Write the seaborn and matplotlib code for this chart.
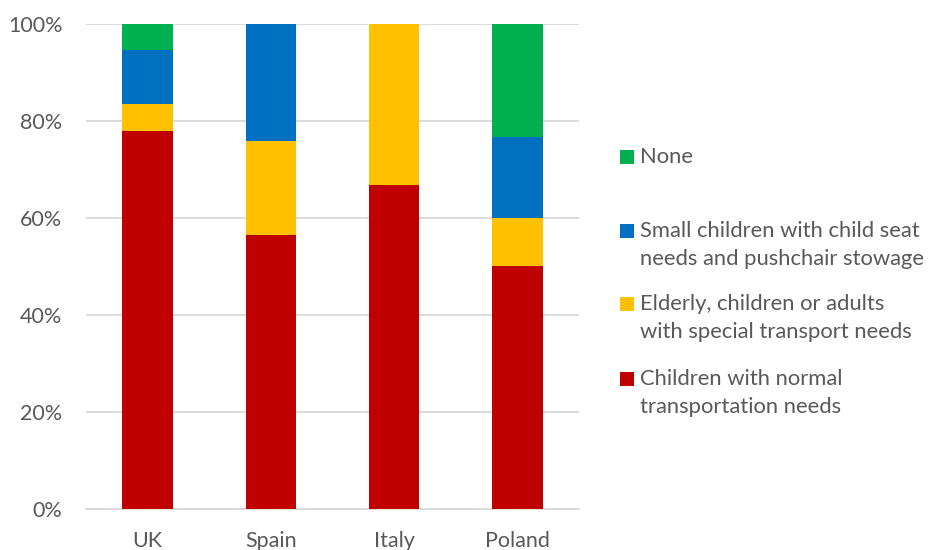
import matplotlib
matplotlib.use("Agg")
import matplotlib.pyplot as plt
import matplotlib.patches as mpatches
from matplotlib.ticker import PercentFormatter
import numpy as np
import pandas as pd
import seaborn as sns

countries = ["UK", "Spain", "Italy", "Poland"]

# Share of respondents (%) per country, bottom to top of each stack
normal_needs = [77.8, 56.4, 66.7, 50.0]
special_needs = [5.6, 19.5, 33.3, 10.0]
child_seat = [11.1, 24.1, 0.0, 16.7]
none_share = [5.5, 0.0, 0.0, 23.3]

series_names = [
    "Children with normal\ntransportation needs",
    "Elderly, children or adults\nwith special transport needs",
    "Small children with child seat\nneeds and pushchair stowage",
    "None",
]
series_colors = ["#C00000", "#FFC000", "#0070C0", "#00B050"]

sns.set_theme(style="white")
plt.rcParams["font.family"] = ["Lato", "DejaVu Sans"]
text_color = "#595959"
grid_color = "#D9D9D9"

fig = plt.figure(figsize=(9.29, 5.5), dpi=100)
ax = fig.add_axes([86 / 929, 41 / 550, (579 - 86) / 929, (509 - 23.7) / 550])

layers = np.array([normal_needs, special_needs, child_seat, none_share])
cumulative = np.cumsum(layers, axis=0)

# Draw cumulative totals from the top layer down so each stack reads bottom-up
for level in range(len(layers) - 1, -1, -1):
    df = pd.DataFrame({"country": countries, "value": cumulative[level] / 100.0})
    sns.barplot(data=df, x="country", y="value", color=series_colors[level],
                width=0.41, saturation=1, ax=ax, zorder=3, linewidth=0)

ax.set_ylim(0, 1)
ax.set_xlim(-0.5, 3.5)
ax.yaxis.set_major_locator(plt.MultipleLocator(0.2))
ax.yaxis.set_major_formatter(PercentFormatter(1.0, decimals=0))
ax.grid(axis="y", color=grid_color, linewidth=1.3, zorder=0)
ax.set_axisbelow(True)
for side in ["top", "left", "right"]:
    ax.spines[side].set_visible(False)
ax.spines["bottom"].set_color(grid_color)
ax.spines["bottom"].set_linewidth(1.3)
ax.spines["bottom"].set_zorder(1)
ax.set_xlabel("")
ax.set_ylabel("")
ax.tick_params(axis="y", length=0, pad=17, labelsize=15.5, labelcolor=text_color)
ax.tick_params(axis="x", length=0, pad=16, labelsize=15.5, labelcolor=text_color)

# Legend, top entry first, each swatch aligned with the first line of its label
legend_rows = [(3, 157), (2, 231), (1, 304), (0, 379)]
line_step = 28
for idx, y_first in legend_rows:
    sq = 14
    fig.patches.append(mpatches.Rectangle(
        (620 / 929, (550 - y_first - sq / 2) / 550), sq / 929, sq / 550,
        transform=fig.transFigure, facecolor=series_colors[idx],
        edgecolor="none"))
    for k, line in enumerate(series_names[idx].split("\n")):
        fig.text(640 / 929, (550 - (y_first + k * line_step)) / 550, line,
                 ha="left", va="center", fontsize=15.8, color=text_color)

fig.savefig("out.png", dpi=100)
